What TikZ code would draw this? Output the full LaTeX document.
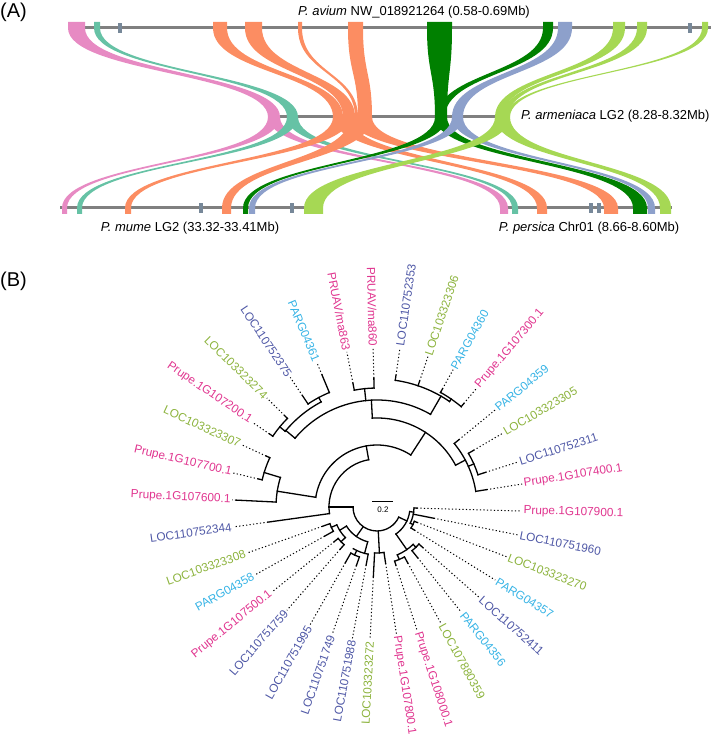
\documentclass[tikz,border=0pt]{standalone}
\usepackage{fontspec}
\setmainfont{Liberation Sans}
\definecolor{ribpink}{HTML}{E78AC3}
\definecolor{ribteal}{HTML}{66C2A5}
\definecolor{riborange}{HTML}{FC8D62}
\definecolor{ribdkgreen}{HTML}{008000}
\definecolor{ribblue}{HTML}{8DA0CB}
\definecolor{ribltgreen}{HTML}{A6D854}
\definecolor{chromgray}{HTML}{808080}
\definecolor{tickgray}{HTML}{778899}
\definecolor{pinktxt}{HTML}{E0358F}
\definecolor{bluetxt}{HTML}{4F58A6}
\definecolor{greentxt}{HTML}{8CB33D}
\definecolor{cyantxt}{HTML}{36B3E5}

\begin{document}
\begin{tikzpicture}[x=1pt, y=1pt,
    chrom/.style={draw=chromgray, line width=3pt},
    gene/.style={fill=tickgray},
    chrlabel/.style={inner sep=0pt, font=\fontsize{13}{15}\selectfont},
    panel/.style={inner sep=0pt, font=\fontsize{20}{24}\selectfont},
    branch/.style={line width=1.3pt, line cap=rect},
    leader/.style={line width=1pt, dash pattern=on 1.2pt off 2.3pt},
    leaf/.style={inner sep=1.5pt, font=\fontsize{11.8}{13}\selectfont}
]
\useasboundingbox (0,0) rectangle (711,737);

% Panel labels
\node[panel, anchor=west] (pA) at (0,725) {(A)};
\node[panel, anchor=west] (pB) at (0,456) {(B)};

% Chromosomes
\draw[chrom] (68,709) -- (711,709);
\draw[chrom] (268,620) -- (510,620);
\draw[chrom] (60,529) -- (323,529);
\draw[chrom] (500,529) -- (672,529);
\foreach \x in {120,690}
  \fill[gene] (\x-2,704) rectangle (\x+2,714);
\foreach \x in {201,292,591,599}
  \fill[gene] (\x-2,524) rectangle (\x+2,534);

% avium -> armeniaca
\foreach \col/\a/\b/\p/\q in {ribpink/68/85/268/280, ribteal/94/100/287/298,
    riborange/213/227/333/343, riborange/245/262/343/355, riborange/298/302/355/358,
    riborange/348/363/358/372, ribdkgreen/427/452/435/447, ribdkgreen/543/553/437/445,
    ribblue/558/572/452/463, ribltgreen/613/625/495/503, ribltgreen/637/647/502/508,
    ribltgreen/702/708/506/510}
  \fill[\col] (\a,715) -- (\a,709) .. controls (\a,664) and (\p,664) .. (\p,620)
    -- (\q,620) .. controls (\q,664) and (\b,664) .. (\b,709) -- (\b,715) -- cycle;

% armeniaca -> mume (left) and persica (right)
\foreach \col/\a/\b/\p/\q in {ribpink/268/280/62/67, ribpink/268/280/500/508,
    ribteal/287/298/77/82, ribteal/287/298/512/518,
    riborange/333/350/125/131, riborange/333/350/537/547,
    riborange/350/372/222/231, riborange/350/372/604/618,
    ribdkgreen/435/447/243/248, ribdkgreen/435/447/633/647,
    ribblue/452/463/249/255, ribblue/452/463/648/655,
    ribltgreen/495/510/304/323, ribltgreen/495/510/660/671}
  \fill[\col] (\a,620) .. controls (\a,575) and (\p,575) .. (\p,529) -- (\p,523)
    -- (\q,523) -- (\q,529) .. controls (\q,575) and (\b,575) .. (\b,620) -- cycle;

% Chromosome labels
\node[chrlabel] (avium) at (414,725) {\textit{P. avium} NW\_018921264 (0.58-0.69Mb)};
\node[chrlabel, anchor=west] (armeniaca) at (521,621) {\textit{P. armeniaca} LG2 (8.28-8.32Mb)};
\node[chrlabel] (mume) at (190,509) {\textit{P. mume} LG2 (33.32-33.41Mb)};
\node[chrlabel] (persica) at (589,509) {\textit{P. persica} Chr01 (8.66-8.60Mb)};

% (B) tree, centre of the fan
\coordinate (T) at (377,230);

% Internal arcs
\foreach \rad/\sa/\ea in {24/180/335, 48/100/187.9, 62/57/171, 101/163/177.2,
    118/155.3/166.7, 89/28/93, 107/60/140, 119/118/140.5, 126/135.3/145.8,
    124/112.6/123.8, 119/91.4/101, 128/55.5/81.8, 131/50/61, 100/9/39.4,
    106/17.7/30.4, 36/-148/-105, 48/-119.6/-100.6, 53/-119.6/-109.4,
    44/-156/-136, 50/-141/-131.1, 50/-160.5/-150.9, 46/-93/-81.3, 33/-55/-8,
    37/-26/-1.6, 40/-31.7/-21, 52/-67/-46, 56/-51.3/-41.5, 57/-72/-61.2}
  \draw[branch] ([shift={(\sa:\rad)}]T) arc[start angle=\sa, end angle=\ea, radius=\rad];

% Internal radial branches
\foreach \ang/\ra/\rb in {180/24/48, 100/48/62, 171/62/101, 163/101/118, 57/62/89,
    93/89/107, 28/89/100, 140/107/119, 96/107/119, 60/107/128, 140.5/119/126,
    118/119/124, 55.5/128/131, 24/100/106, -125/24/36, -105/36/48, -115/48/53,
    -148/36/44, -136/44/50, -156/44/50, -87/24/46, -25/24/33, -8/33/37,
    -26/37/40, -55/33/52, -46/52/56, -67/52/57}
  \draw[branch] ([shift={(\ang:\ra)}]T) -- ([shift={(\ang:\rb)}]T);

% Leaves: tip branch, label, dotted leader
\foreach \n/\ang/\rp/\rt/\rl/\col/\side/\txt in {
    1/177.2/101/141/145/pinktxt/east/Prupe.1G107600.1,
    2/166.7/118/122/148/pinktxt/east/Prupe.1G107700.1,
    3/155.3/118/122/149/greentxt/east/LOC103323307,
    4/145.8/126/130/151/pinktxt/east/Prupe.1G107200.1,
    5/135.3/126/130/155/greentxt/east/LOC103323274,
    6/123.8/124/134/156/bluetxt/east/LOC110752375,
    7/112.6/124/143/156/cyantxt/east/PARG04361,
    8/101/119/126/158/pinktxt/east/{PRUAV/ma863},
    9/91.4/119/129/159/pinktxt/east/{PRUAV/ma860},
    10/81.8/128/133/161/bluetxt/west/LOC110752353,
    11/71.3/128/133/159/greentxt/west/LOC103323306,
    12/61/131/135/157/cyantxt/west/PARG04360,
    13/50/131/135/155/pinktxt/west/Prupe.1G107300.1,
    14/39.4/100/106/153/cyantxt/west/PARG04359,
    15/30.4/106/112/146/greentxt/west/LOC103323305,
    16/17.7/106/114/148/bluetxt/west/LOC110752311,
    17/9/100/111/147/pinktxt/west/Prupe.1G107400.1,
    18/-1.6/37/40/145/pinktxt/west/Prupe.1G107900.1,
    19/-11.2/37/58/144/bluetxt/west/LOC110751960,
    20/-21/40/43/139/greentxt/west/LOC103323270,
    21/-31.7/40/44/139/cyantxt/west/PARG04357,
    22/-41.5/56/61/137/bluetxt/west/LOC110752411,
    23/-51.3/56/65/135/cyantxt/west/PARG04356,
    24/-61.2/57/64/133/greentxt/west/LOC107880359,
    25/-72/57/61/130/pinktxt/west/Prupe.1G108000.1,
    26/-81.3/46/57/129/pinktxt/west/Prupe.1G107800.1,
    27/-93/46/70/133/greentxt/east/LOC103323272,
    28/-100.6/48/59/134/bluetxt/east/LOC110751988,
    29/-109.4/53/62/135/bluetxt/east/LOC110751749,
    30/-119.6/53/64/136/bluetxt/east/LOC110751995,
    31/-131.1/50/56/137/bluetxt/east/LOC110751759,
    32/-141/50/55/135/pinktxt/east/Prupe.1G107500.1,
    33/-150.9/50/60/140/cyantxt/east/PARG04358,
    34/-160.5/50/58/138/greentxt/east/LOC103323308,
    35/187.9/48/110/145/bluetxt/east/LOC110752344}
{
  \coordinate (t\n) at ([shift={(\ang:\rt)}]T);
  \draw[branch] ([shift={(\ang:\rp)}]T) -- (t\n);
  \pgfmathsetmacro{\rot}{cos(\ang)<0 ? \ang+180 : \ang}
  \node[leaf, text=\col, anchor=\side, rotate=\rot] (l\n) at ([shift={(\ang:\rl)}]T) {\txt};
  \draw[leader] (t\n) -- (l\n);
}

% Scale bar
\draw[line width=1pt] (372,235) -- (393,235);
\node[font=\fontsize{8}{9}\selectfont] (scale) at (383,227) {0.2};

\end{tikzpicture}
\end{document}
